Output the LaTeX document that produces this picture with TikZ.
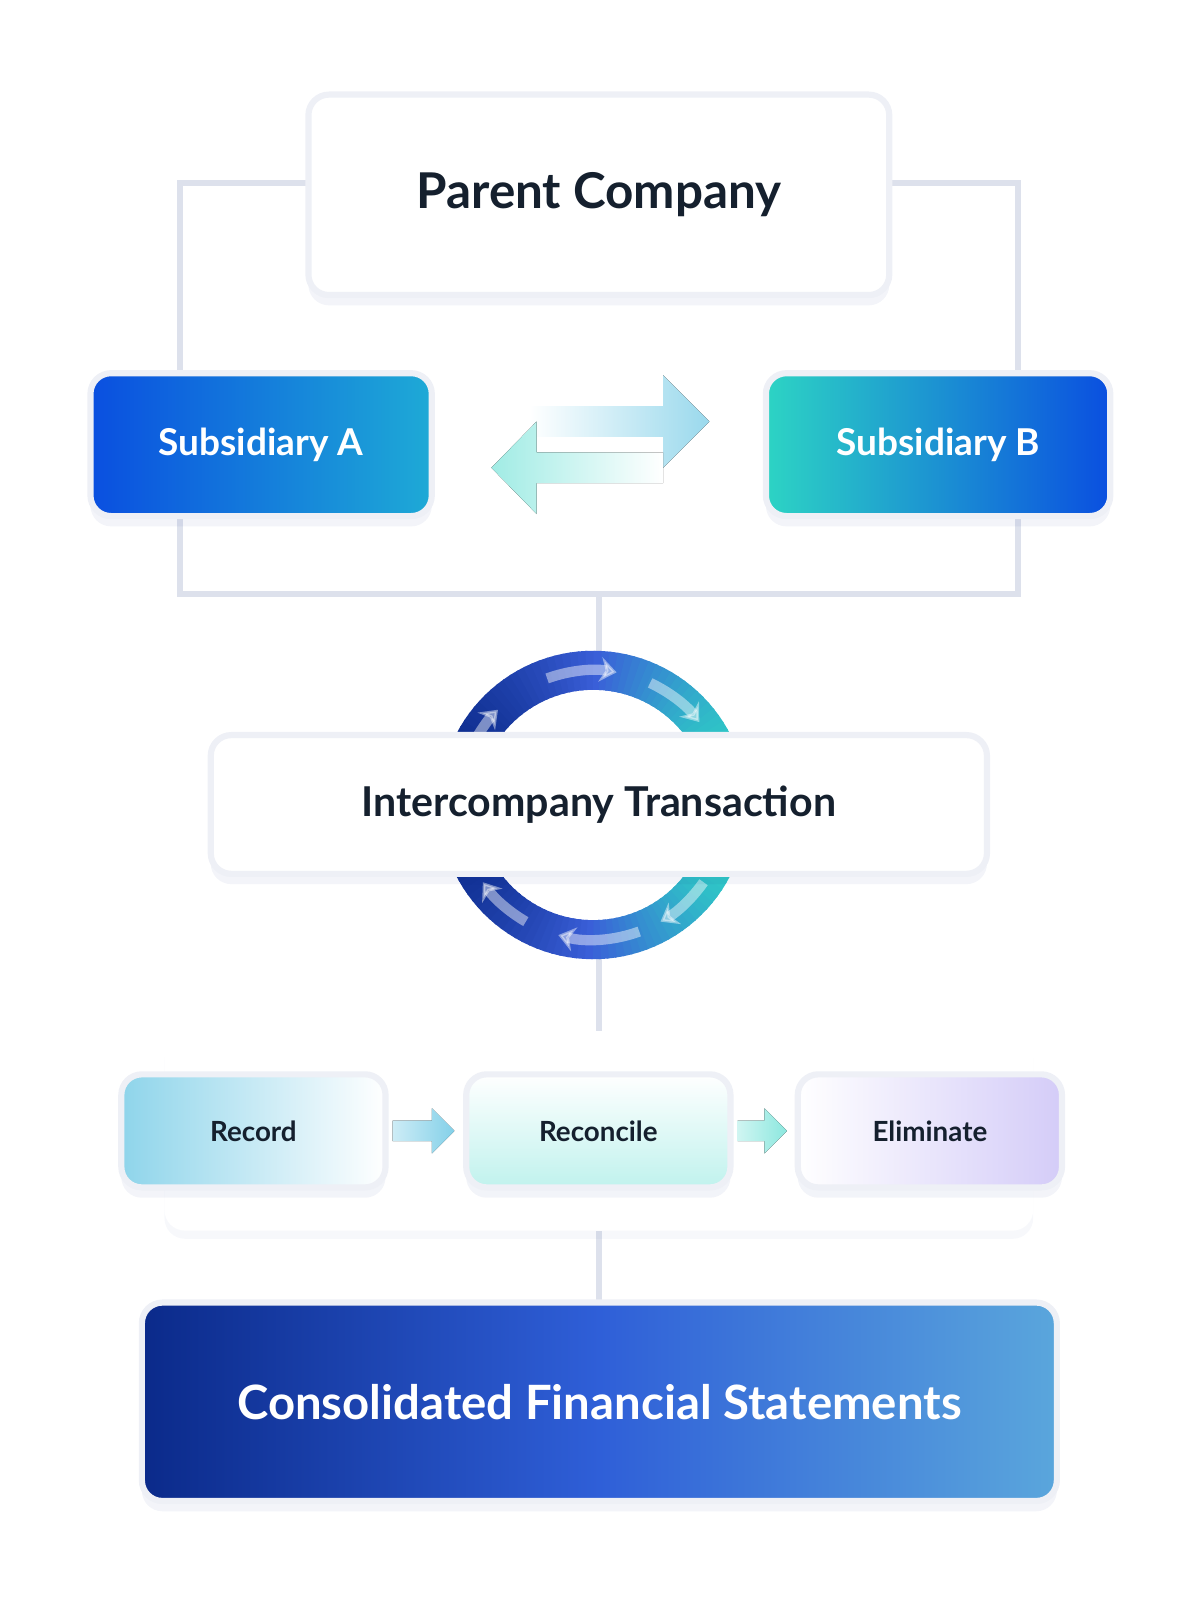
\documentclass[tikz,border=0pt]{standalone}
\usepackage{fontspec}
\setmainfont{Lato}
\usetikzlibrary{shadows,arrows.meta}
\definecolor{frame}{HTML}{DDE1EC}
\definecolor{ink}{HTML}{15202E}
\definecolor{rim}{HTML}{EEF0F6}
\definecolor{deepblue}{HTML}{0A4FE0}
\definecolor{cyanb}{HTML}{1EAAD6}
\definecolor{tealb}{HTML}{2DD4C4}
\definecolor{navy}{HTML}{0B2A8A}
\definecolor{midblue}{HTML}{2F5FD8}
\definecolor{ringblue}{HTML}{3A5FD8}
\definecolor{skyb}{HTML}{5AA6DC}
\definecolor{lilac}{HTML}{D4CCF8}
\tikzset{
  card/.style={rounded corners=10pt, draw=rim, line width=3pt, fill=white,
    drop shadow={shadow xshift=0pt, shadow yshift=-5pt, opacity=.05, fill=navy},
    font=\bfseries, text=ink},
  stage/.style={card, minimum width=128.5pt, minimum height=55pt, font=\bfseries\fontsize{13.5}{16}\selectfont},
  link/.style={frame, line width=3pt},
  spin/.style={-{Stealth[length=8pt,width=12pt]}, white, opacity=.45, line width=5pt},
}
\begin{document}
\begin{tikzpicture}[x=0.5pt,y=-0.5pt]
	\useasboundingbox (0,0) rectangle (1167,1568);
	% frame lines
	\draw[link] (300,178) -- (175,178) -- (175,362);
	\draw[link] (865,178) -- (990,178) -- (990,362);
	\draw[link] (175,505) -- (175,578) -- (990,578) -- (990,505);
	\draw[link] (583,578) -- (583,640);
	\draw[link] (583,925) -- (583,1003);
	\draw[link] (583,1197) -- (583,1265);

	\node[card, minimum width=282.5pt, minimum height=97.5pt, font=\bfseries\fontsize{24}{28}\selectfont] (parent) at (582.5,189.5) {Parent Company};
	\node[card, left color=deepblue, right color=cyanb, text=white, minimum width=166pt, minimum height=69.5pt, font=\bfseries\fontsize{18}{21}\selectfont] (subA) at (254,432.5) {Subsidiary A};
	\node[card, left color=tealb, right color=deepblue, text=white, minimum width=167.5pt, minimum height=69.5pt, font=\bfseries\fontsize{18}{21}\selectfont] (subB) at (912.5,432.5) {Subsidiary B};

	% exchange arrows
	\fill[left color=white, right color=cyanb!45] (515,395) -- (645,395) -- (645,365) -- (690,410) -- (645,455) -- (645,425) -- (515,425) -- cycle;
	\fill[left color=tealb!45, right color=white] (645,440) -- (522,440) -- (522,410) -- (478,455) -- (522,500) -- (522,470) -- (645,470) -- cycle;

	% ring
	\foreach \a in {0,3,...,357}{
		\pgfmathsetmacro\m{max(0,cos(\a))*100}
		\pgfmathsetmacro\n{max(0,-cos(\a))*100}
		\ifdim\m pt>0pt
			\colorlet{ringc}{tealb!\m!ringblue}
		\else
			\colorlet{ringc}{navy!\n!ringblue}
		\fi
		\draw[line width=19pt, color=ringc] (577,783) ++(\a:131) arc[start angle=\a, end angle=\a+4, radius=131];
	}
	\draw[spin] (577,783) ++(-110:131) arc[start angle=-110, end angle=-80, radius=131];
	\draw[spin] (577,783) ++(-150:131) arc[start angle=-150, end angle=-135, radius=131];
	\draw[spin] (577,783) ++(-65:131) arc[start angle=-65, end angle=-38, radius=131];
	\draw[spin] (577,783) ++(35:131) arc[start angle=35, end angle=60, radius=131];
	\draw[spin] (577,783) ++(70:131) arc[start angle=70, end angle=105, radius=131];
	\draw[spin] (577,783) ++(120:131) arc[start angle=120, end angle=145, radius=131];

	\node[card, minimum width=377.5pt, minimum height=67.5pt, font=\bfseries\fontsize{20}{24}\selectfont] (inter) at (582.5,782.5) {Intercompany Transaction};

	% steps panel
	\node[rounded corners=10pt, fill=white, drop shadow={shadow xshift=0pt, shadow yshift=-4pt, opacity=.03, fill=navy}, minimum width=422.5pt, minimum height=97pt] (panel) at (582.5,1100) {};
	\node[stage, left color=cyanb!50, right color=white] (rec) at (246.5,1100) {Record};
	\node[stage, top color=white, bottom color=tealb!30] (recon) at (582,1100) {Reconcile};
	\node[stage, left color=white, right color=lilac] (elim) at (904.5,1100) {Eliminate};
	\fill[left color=cyanb!20, right color=cyanb!55] (rec.east) ++(4,-10) -- ++(38,0) -- ++(0,-12) -- ++(22,22) -- ++(-22,22) -- ++(0,-12) -- ++(-38,0) -- cycle;
	\fill[left color=tealb!20, right color=tealb!55] (recon.east) ++(4,-10) -- ++(26,0) -- ++(0,-12) -- ++(22,22) -- ++(-22,22) -- ++(0,-12) -- ++(-26,0) -- cycle;

	\node[card, left color=navy, right color=skyb, middle color=midblue, text=white, minimum width=445pt, minimum height=96.5pt, font=\bfseries\fontsize{23}{27}\selectfont] (cons) at (583,1363.5) {Consolidated Financial Statements};
\end{tikzpicture}
\end{document}
